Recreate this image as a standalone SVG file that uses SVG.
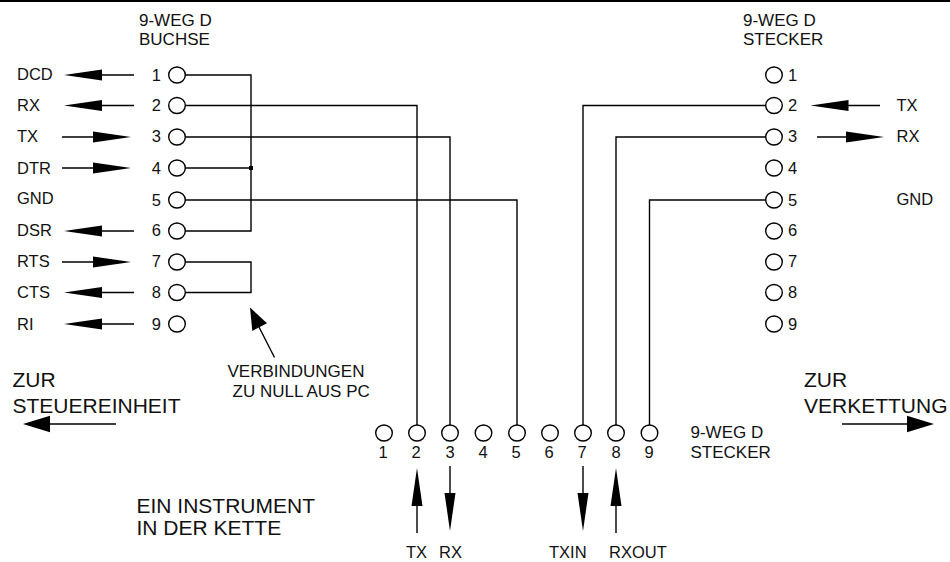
<svg xmlns="http://www.w3.org/2000/svg" width="950" height="562" viewBox="0 0 950 562">
<style>
text{font-family:"Liberation Sans",Arial,sans-serif;font-size:16.5px;fill:#111}
.cap{font-size:17px}
.big{font-size:21px}
.w{fill:none;stroke:#000;stroke-width:1.4}
.p{fill:#fff;stroke:#000;stroke-width:1.4}
.m{text-anchor:middle}
.e{text-anchor:end}
</style>
<defs>
<path id="al" d="M0 0L38 -5.5V5.5Z" fill="#000"/>
<path id="bl" d="M0 0L27 -8.3V8.3Z" fill="#000"/>
<ellipse id="c" rx="8.3" ry="8" class="p"/>
</defs>
<rect width="950" height="2" fill="#000"/>
<g id="connectors" class="w">
<path d="M185 75H251V231H185M185 168H251M185 262H251V292.500H185"/>
<path d="M185 105.500H417V425M185 137H450V425M185 200H517V425"/>
<path d="M766 105.500H583V425M766 137H616V425M766 200H649.500V425"/>
<path d="M101 75H134M101 105.500H134M62 137H95M62 168H95M101 231H134M62 262H95M101 292.500H134M101 324H134"/>
<path d="M847 105.500H880M817 137H847"/>
<path d="M259 327L274.500 357.500M50 424H116M842 424H907M417 533V503M450 466V496M583 466V496M616 533V503"/>
</g>
<rect x="249" y="166" width="4" height="4" fill="#000"/>
<g id="arrowheads">
<use href="#al" transform="translate(64 75)"/><use href="#al" transform="translate(64 105.500)"/>
<use href="#al" transform="translate(131 137) rotate(180)"/><use href="#al" transform="translate(131 168) rotate(180)"/>
<use href="#al" transform="translate(64 231)"/><use href="#al" transform="translate(131 262) rotate(180)"/>
<use href="#al" transform="translate(64 292.500)"/><use href="#al" transform="translate(64 324)"/>
<use href="#al" transform="translate(810.500 105.500)"/><use href="#al" transform="translate(884 137) rotate(180)"/>
<use href="#bl" transform="translate(23 424)"/><use href="#bl" transform="translate(934 424) rotate(180)"/>
<path d="M250 307.500L252.300 331L267 323.300Z" fill="#000"/>
<use href="#al" transform="translate(417 468) rotate(90)"/><use href="#al" transform="translate(450 531) rotate(-90)"/>
<use href="#al" transform="translate(583 531) rotate(-90)"/><use href="#al" transform="translate(616 468) rotate(90)"/>
</g>
<g id="left-connector">
<text class="cap" x="139" y="26">9-WEG D</text><text class="cap" x="139" y="45">BUCHSE</text>
<use href="#c" x="177" y="75"/><use href="#c" x="177" y="105.500"/><use href="#c" x="177" y="137"/><use href="#c" x="177" y="168"/><use href="#c" x="177" y="200"/><use href="#c" x="177" y="231"/><use href="#c" x="177" y="262"/><use href="#c" x="177" y="292.500"/><use href="#c" x="177" y="324"/>
<text x="161" y="80.500" class="e">1</text><text x="161" y="111" class="e">2</text><text x="161" y="142" class="e">3</text><text x="161" y="174" class="e">4</text><text x="161" y="205.500" class="e">5</text><text x="161" y="236" class="e">6</text><text x="161" y="267" class="e">7</text><text x="161" y="298" class="e">8</text><text x="161" y="330" class="e">9</text>
<text x="17" y="80">DCD</text><text x="17" y="111">RX</text><text x="17" y="142">TX</text><text x="17" y="174">DTR</text><text x="17" y="204">GND</text><text x="17" y="236">DSR</text><text x="17" y="267">RTS</text><text x="17" y="298">CTS</text><text x="17" y="330">RI</text>
</g>
<g id="right-connector">
<text class="cap" x="743" y="26">9-WEG D</text><text class="cap" x="743" y="45">STECKER</text>
<use href="#c" x="774" y="75"/><use href="#c" x="774" y="105.500"/><use href="#c" x="774" y="137"/><use href="#c" x="774" y="168"/><use href="#c" x="774" y="200"/><use href="#c" x="774" y="231"/><use href="#c" x="774" y="262"/><use href="#c" x="774" y="292.500"/><use href="#c" x="774" y="324"/>
<text x="788" y="80.500">1</text><text x="788" y="111">2</text><text x="788" y="142">3</text><text x="788" y="174">4</text><text x="788" y="205.500">5</text><text x="788" y="236">6</text><text x="788" y="267">7</text><text x="788" y="298">8</text><text x="788" y="330">9</text>
<text x="896.500" y="111">TX</text><text x="896.500" y="142">RX</text><text x="896.500" y="205">GND</text>
</g>
<g id="bottom-connector">
<use href="#c" x="384" y="433"/><use href="#c" x="417" y="433"/><use href="#c" x="450" y="433"/><use href="#c" x="483.500" y="433"/><use href="#c" x="517" y="433"/><use href="#c" x="550" y="433"/><use href="#c" x="583" y="433"/><use href="#c" x="616" y="433"/><use href="#c" x="649.500" y="433"/>
<text x="383" y="458" class="m">1</text><text x="416" y="458" class="m">2</text><text x="450" y="458" class="m">3</text><text x="483" y="458" class="m">4</text><text x="516" y="458" class="m">5</text><text x="549" y="458" class="m">6</text><text x="582" y="458" class="m">7</text><text x="616" y="458" class="m">8</text><text x="649" y="458" class="m">9</text>
<text class="cap" x="690.500" y="438">9-WEG D</text><text class="cap" x="690.500" y="458">STECKER</text>
<text x="406" y="558">TX</text><text x="439" y="558">RX</text><text x="549" y="558">TXIN</text><text x="609" y="558">RXOUT</text>
</g>
<g id="labels">
<text class="cap" x="227.500" y="376.500">VERBINDUNGEN</text><text class="cap" x="232.500" y="396.500">ZU NULL AUS PC</text>
<text x="12.500" y="386.500" class="big">ZUR</text><text x="12.500" y="412.500" class="big">STEUEREINHEIT</text>
<text x="804" y="386.500" class="big">ZUR</text><text x="804" y="412.500" class="big">VERKETTUNG</text>
<text x="136.500" y="513" class="big">EIN INSTRUMENT</text><text x="136.500" y="535" class="big">IN DER KETTE</text>
</g>
</svg>
